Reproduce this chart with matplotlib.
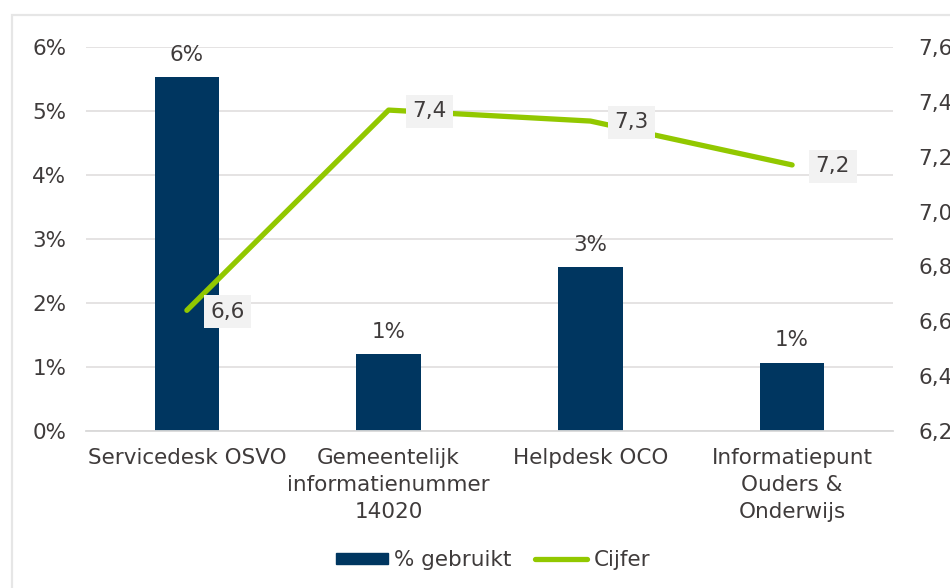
import matplotlib.pyplot as plt
import matplotlib.patches as mpatches
from matplotlib.lines import Line2D

categories = [
    "Servicedesk OSVO",
    "Gemeentelijk\ninformatienummer\n14020",
    "Helpdesk OCO",
    "Informatiepunt\nOuders &\nOnderwijs",
]
pct_used = [5.53, 1.2, 2.56, 1.07]
pct_labels = ["6%", "1%", "3%", "1%"]
grades = [6.64, 7.37, 7.33, 7.17]
grade_labels = ["6,6", "7,4", "7,3", "7,2"]
left_ticks = [0, 1, 2, 3, 4, 5, 6]
right_ticks = [6.2, 6.4, 6.6, 6.8, 7.0, 7.2, 7.4, 7.6]

navy = "#003660"
green = "#92C800"
txt = "#3F3B3B"
grid = "#E3E1E1"
fs = 15.5

plt.rcParams["font.family"] = ["DejaVu Sans"]

fig = plt.figure(figsize=(9.5, 5.88), dpi=100)
fig.patches.append(mpatches.Rectangle((12 / 950, -0.05), 1.1, 1 - 15 / 588 + 0.05,
                                      transform=fig.transFigure, fill=False,
                                      edgecolor="#E6E6E6", lw=1.6))
ax = fig.add_axes([86 / 950, 1 - 431 / 588, (893 - 86) / 950, (431 - 47) / 588])
ax2 = ax.twinx()

x = range(len(categories))
bars = ax.bar(x, pct_used, width=0.32, color=navy, zorder=2)
for b, lab in zip(bars, pct_labels):
    ax.annotate(lab, (b.get_x() + b.get_width() / 2, b.get_height()),
                xytext=(0, 9), textcoords="offset points", ha="center", va="bottom",
                fontsize=fs, color=txt)

ax.set_xlim(-0.5, len(categories) - 0.5)
ax.set_ylim(0, 6)
ax.set_yticks(left_ticks)
ax.set_yticklabels([f"{t}%" for t in left_ticks])
ax.grid(axis="y", color=grid, lw=1.3, zorder=0)
ax.set_axisbelow(True)
ax.set_xticks(list(x))
ax.set_xticklabels(categories, linespacing=1.45)
ax.tick_params(axis="x", length=0, pad=12, labelsize=fs, labelcolor=txt)
ax.tick_params(axis="y", length=0, pad=14, labelsize=fs, labelcolor=txt)
for s in ["top", "left", "right"]:
    ax.spines[s].set_visible(False)
ax.spines["bottom"].set_color("#D9D9D9")
ax.spines["bottom"].set_linewidth(1.3)

ax2.plot(list(x), grades, color=green, lw=3.8, solid_capstyle="round", zorder=3)
for xi, g, lab in zip(x, grades, grade_labels):
    ax2.annotate(lab, (xi, g), xytext=(17, -1), textcoords="offset points",
                 ha="left", va="center", fontsize=fs, color=txt, zorder=4,
                 bbox=dict(boxstyle="square,pad=0.3", fc="#F2F2F2", ec="none"))
ax2.set_ylim(6.2, 7.6)
ax2.set_yticks(right_ticks)
ax2.set_yticklabels([f"{t:.1f}".replace(".", ",") for t in right_ticks])
ax2.tick_params(axis="y", length=0, pad=18, labelsize=fs, labelcolor=txt)
for s in ax2.spines.values():
    s.set_visible(False)

handles = [mpatches.Patch(color=navy, label="% gebruikt"),
           Line2D([0], [0], color=green, lw=3.8, solid_capstyle="round", label="Cijfer")]
fig.legend(handles=handles, loc="center", bbox_to_anchor=(493 / 950, 1 - 560 / 588),
           ncol=2, frameon=False, fontsize=fs, labelcolor=txt, handlelength=2.4,
           handleheight=0.45, handletextpad=0.3, columnspacing=1.1)

fig.savefig("out.png", dpi=100)
